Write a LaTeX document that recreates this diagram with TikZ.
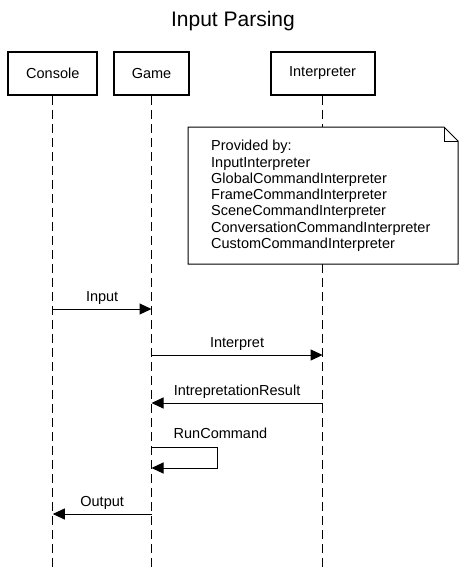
\documentclass[tikz,border=0pt]{standalone}
\usepackage{fontspec}
\setmainfont{Liberation Sans}
\usetikzlibrary{arrows.meta}

\begin{document}
\begin{tikzpicture}[x=1pt,y=-1pt,
		actor/.style={draw,line width=2pt,minimum height=43.5pt,inner sep=0pt,font=\fontsize{14.5}{16}\selectfont},
		lifeline/.style={line width=1pt,dash pattern=on 9pt off 5pt},
		msg/.style={line width=1pt,-{Triangle[length=12pt,width=11pt]}},
		msglabel/.style={anchor=base,inner sep=0pt,font=\fontsize{14.5}{16}\selectfont}]
		\useasboundingbox (0,0) rectangle (466,571);
		\node [anchor=base,inner sep=0pt,font=\fontsize{21}{24}\selectfont] (title) at (233,26) {Input Parsing};
		\node [actor,minimum width=89pt] (console) at (52.8,73.3) {Console};
		\node [actor,minimum width=75.5pt] (game) at (151.5,73.3) {Game};
		\node [actor,minimum width=104pt] (interp) at (322.6,73.3) {Interpreter};
		\coordinate (console end) at (console |- 0,568);
		\coordinate (game end) at (game |- 0,568);
		\coordinate (interp end) at (interp |- 0,568);
		\draw [lifeline] (console.south) -- (console end);
		\draw [lifeline] (game.south) -- (game end);
		\draw [lifeline] (interp.south) -- (interp end);
		\node [minimum width=270pt,minimum height=137pt,inner sep=0pt,outer sep=0pt] (note) at (323,195.5) {};
		\draw [line width=1pt,fill=white] (note.north west) -- ([xshift=-14pt]note.north east) -- ([yshift=-14pt]note.north east) -- (note.south east) -- (note.south west) -- cycle;
		\draw [line width=1pt] ([xshift=-14pt]note.north east) |- ([yshift=-14pt]note.north east);
		\node [anchor=north west,align=left,inner sep=0pt,font=\fontsize{14.5}{16.3}\selectfont] (note text) at ([xshift=23pt,yshift=-13pt]note.north west) {Provided by:\\InputInterpreter\\GlobalCommandInterpreter\\FrameCommandInterpreter\\SceneCommandInterpreter\\ConversationCommandInterpreter\\CustomCommandInterpreter};
		\coordinate (input from) at (console |- 0,309);
		\coordinate (input to) at (game |- 0,309);
		\coordinate (interpret from) at (game |- 0,355);
		\coordinate (interpret to) at (interp |- 0,355);
		\coordinate (result from) at (interp |- 0,403);
		\coordinate (result to) at (game |- 0,403);
		\coordinate (run from) at (game |- 0,447);
		\coordinate (run to) at (game |- 0,468);
		\coordinate (output from) at (game |- 0,514);
		\coordinate (output to) at (console |- 0,514);
		\draw [msg] (input from) -- (input to) node [msglabel,midway,yshift=7.5pt] {Input};
		\draw [msg] (interpret from) -- (interpret to) node [msglabel,midway,yshift=8pt] {Interpret};
		\draw [msg] (result from) -- (result to) node [msglabel,midway,yshift=8pt] {IntrepretationResult};
		\draw [msg] (run from) -- ++(66,0) -- ++(0,21) -- (run to);
		\node [msglabel,anchor=base west] (run label) at ([xshift=22pt,yshift=8.5pt]run from) {RunCommand};
		\draw [msg] (output from) -- (output to) node [msglabel,midway,yshift=8pt] {Output};
	\end{tikzpicture}
\end{document}
